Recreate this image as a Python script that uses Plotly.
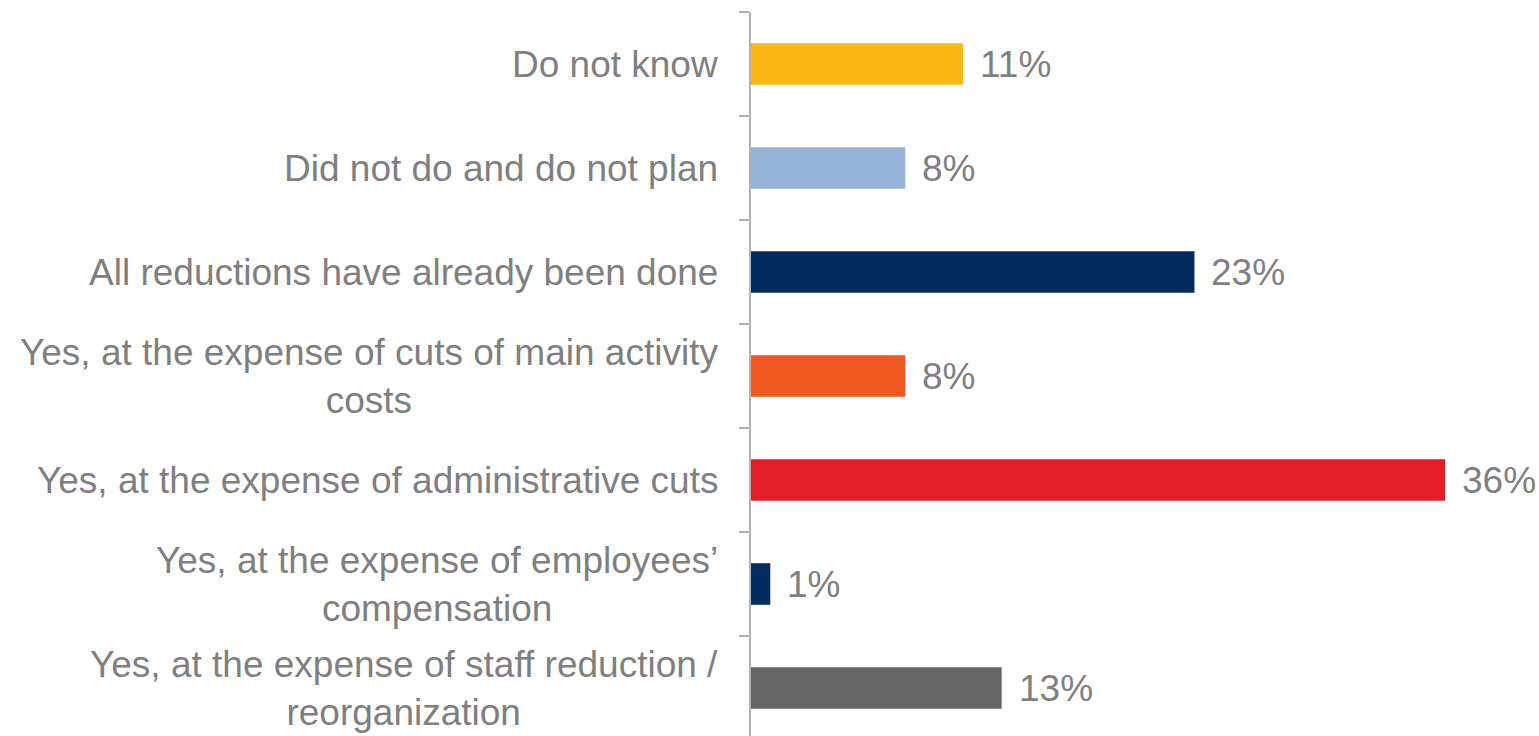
import plotly.graph_objects as go

# Survey answers, listed bottom to top
categories = [
    "Yes, at the expense of staff reduction /<br>reorganization",
    "Yes, at the expense of employees’<br>compensation",
    "Yes, at the expense of administrative cuts",
    "Yes, at the expense of cuts of main activity<br>costs",
    "All reductions have already been done",
    "Did not do and do not plan",
    "Do not know",
]
shares = [13, 1, 36, 8, 23, 8, 11]
bar_colors = ["#666666", "#002B5C", "#E31F26", "#F05A22", "#002B5C", "#95B3D7", "#FBB715"]

FONT = "Liberation Sans, Arial, sans-serif"
TEXT_GRAY = "#7F7F7F"
FS = 37

fig = go.Figure(
    go.Bar(
        x=shares,
        y=categories,
        orientation="h",
        marker=dict(color=bar_colors, line=dict(width=0)),
        hoverinfo="skip",
    )
)

annotations = []
for cat, val in zip(categories, shares):
    # category label, centred lines, right-aligned against the axis
    annotations.append(dict(
        x=0, xref="paper", y=cat, yref="y",
        text=cat, showarrow=False,
        xanchor="right", yanchor="middle", align="center",
        xshift=-31,
        font=dict(family=FONT, size=FS, color=TEXT_GRAY),
    ))
    # value label just past the end of the bar
    annotations.append(dict(
        x=val, xref="x", y=cat, yref="y",
        text=f"{val}%", showarrow=False,
        xanchor="left", yanchor="middle",
        xshift=15,
        font=dict(family=FONT, size=FS, color=TEXT_GRAY),
    ))

fig.update_layout(
    width=1539, height=736,
    margin=dict(l=751, r=0, t=12, b=0),
    paper_bgcolor="white", plot_bgcolor="white",
    bargap=0.6,
    showlegend=False,
    annotations=annotations,
    xaxis=dict(
        range=[0, 40.87], visible=False, showgrid=False, zeroline=False,
    ),
    yaxis=dict(
        type="category",
        categoryorder="array", categoryarray=categories,
        range=[-0.4615, 6.5],
        showticklabels=False,
        showgrid=False, zeroline=False,
        showline=True, linecolor="#B3B3B3", linewidth=1.5,
        ticks="outside", tickson="boundaries", ticklen=10,
        tickcolor="#B3B3B3", tickwidth=1.5,
    ),
)

fig.write_html("out.html")
